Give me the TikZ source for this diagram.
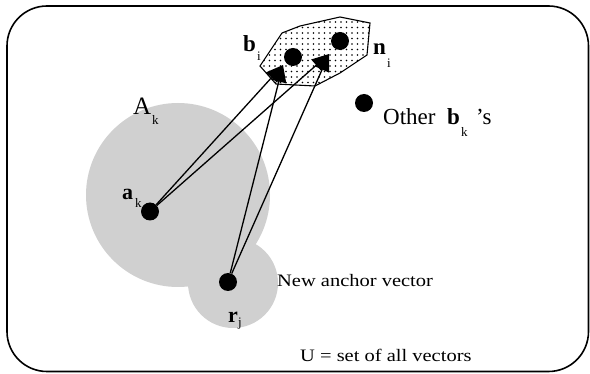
\documentclass[tikz,border=0pt]{standalone}
\usepackage{fontspec}
\usepackage{graphicx}
\setmainfont{Liberation Serif}
\usetikzlibrary{arrows.meta,patterns}

% sparse dot fill for the neighbourhood of b_i
\pgfdeclarepatternformonly{sparsedots}{\pgfqpoint{-1pt}{-1pt}}{\pgfqpoint{1pt}{1pt}}{\pgfqpoint{5.5pt}{5.5pt}}{%
  \pgfpathcircle{\pgfqpoint{0pt}{0pt}}{0.8pt}\pgfusepath{fill}}

\definecolor{regiongray}{RGB}{208,208,208}

\tikzset{
  frame/.style={line width=1.6pt, rounded corners=40pt},
  region/.style={fill=regiongray, draw=none},
  hood/.style={draw, line width=1.1pt, fill=white, postaction={pattern=sparsedots}},
  vdot/.style={circle, fill=black, minimum size=18pt, inner sep=0pt},
  vec/.style={line width=1.3pt, -{Triangle[length=17pt,width=15pt]}},
  biglbl/.style={anchor=base west, inner sep=0pt, font=\fontsize{23}{23}\selectfont},
  sublbl/.style={anchor=base west, inner sep=0pt, font=\fontsize{13}{13}\selectfont},
  note/.style={anchor=base west, inner sep=0pt, font=\fontsize{17.5}{17.5}\selectfont},
}

\begin{document}
\begin{tikzpicture}[x=1pt, y=-1pt]
  \useasboundingbox (0,0) rectangle (590,374);

  % universe U
  \draw[frame] (7,6) rectangle (588.5,371.5);

  % region A_k and the region around r_j
  \fill[region] (178,195) circle (92);
  \fill[region] (233,283) circle (45);

  % dotted neighbourhood around b_i and n_i
  \draw[hood] (260,66) -- (282,33) -- (300,26) -- (340,17) -- (370,23)
              -- (367,55) -- (340,73) -- (315,86) -- (276,84) -- cycle;

  % vectors
  \node[vdot] (ak) at (150,211.5) {};
  \node[vdot] (rj) at (228,282) {};
  \node[vdot] (bi) at (293,57) {};
  \node[vdot] (ni) at (340,41) {};
  \node[vdot] (bk) at (364,103) {};

  % arrow tips next to b_i and n_i
  \coordinate (tipb) at (283,65);
  \coordinate (tipn) at (329,54);

  \draw[vec] (ak) -- (tipb);
  \draw[vec] (ak) -- (tipn);
  \draw[vec] (rj) -- (tipb);
  \draw[vec] (rj) -- (tipn);

  % labels
  \node[biglbl, font=\fontsize{25}{25}\selectfont] (Alab) at (133,115) {A};
  \node[sublbl] (Asub) at (152,125) {k};

  \node[biglbl, font=\fontsize{22}{22}\selectfont\bfseries] (alab) at (122,200) {a};
  \node[sublbl] (asub) at (135,208) {k};

  \node[biglbl, font=\fontsize{22}{22}\selectfont\bfseries] (rlab) at (228,323) {r};
  \node[sublbl] (rsub) at (238,327) {j};

  \node[biglbl, font=\fontsize{23}{23}\selectfont\bfseries] (blab) at (243,52) {b};
  \node[sublbl] (bsub) at (257,61) {i};

  \node[biglbl, font=\fontsize{23}{23}\selectfont\bfseries] (nlab) at (373,55) {n};
  \node[sublbl] (nsub) at (387,68) {i};

  \node[biglbl] (other) at (383,125) {Other};
  \node[biglbl, font=\fontsize{23}{23}\selectfont\bfseries] (obk) at (447,125) {b};
  \node[sublbl] (obsub) at (461,137) {k};
  \node[biglbl] (oapos) at (476,125) {’s};

  \node[note] (newanchor) at (277,287) {\scalebox{1.17}[1]{New anchor vector}};
  \node[note] (uset) at (300,362) {\scalebox{1.17}[1]{U = set of all vectors}};
\end{tikzpicture}
\end{document}
